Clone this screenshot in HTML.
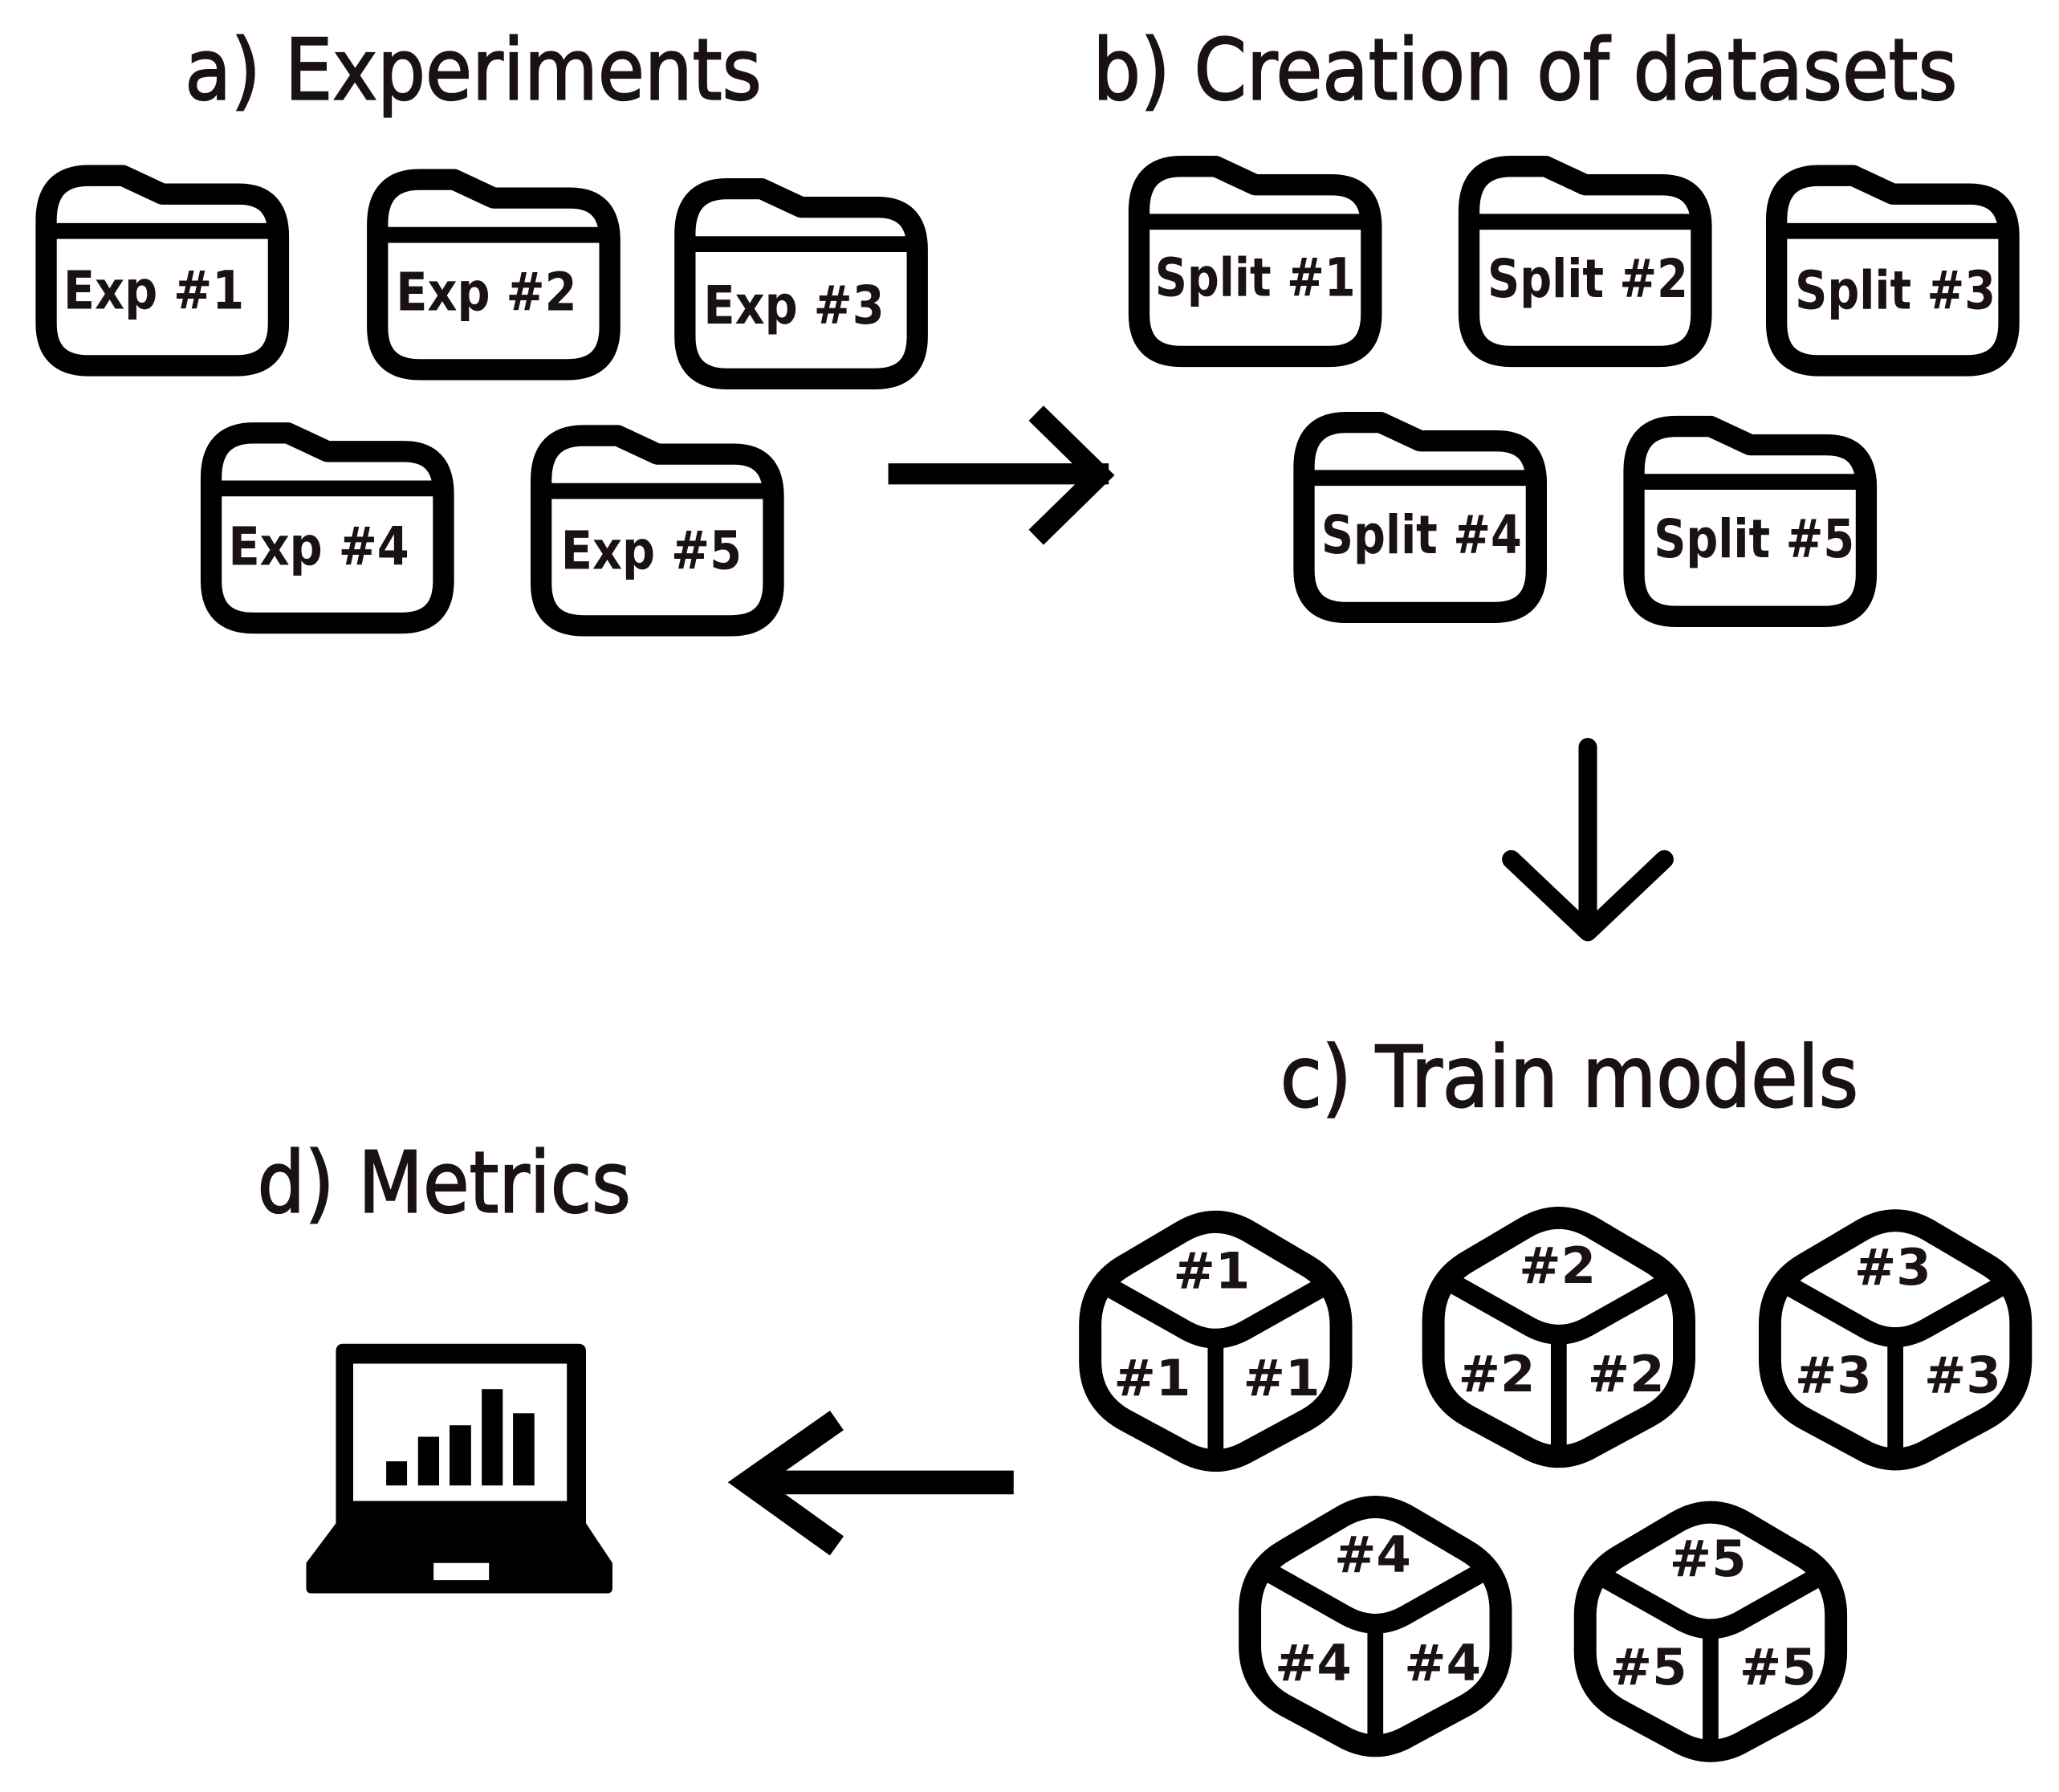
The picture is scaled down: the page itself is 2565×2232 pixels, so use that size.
<!DOCTYPE html>
<html><head><meta charset="utf-8"><style>
html,body{margin:0;padding:0;background:#fff;}
svg{display:block;}
text{font-family:"DejaVu Sans","Liberation Sans",sans-serif;fill:#1a1212;}
.t{font-size:64px;stroke:#1a1212;stroke-width:1.3px;}
.f{font-size:40px;font-weight:bold;}
.c{font-size:38px;font-weight:bold;text-anchor:middle;}
</style></head><body>
<svg width="2565" height="2232" viewBox="0 0 1560 1357.5" preserveAspectRatio="none" xmlns="http://www.w3.org/2000/svg">
<defs>
<g id="folder" fill="none" stroke="#000" stroke-linejoin="round">
<path d="M8,42 Q8,8 40,8 L66,8 L96,22 L154,22 Q184,22 184,54 L184,120 Q184,152 152,152 L40,152 Q8,152 8,120 Z" stroke-width="16"/>
<line x1="8" y1="50" x2="184" y2="50" stroke-width="12"/>
</g>
<g id="cube" fill="none" stroke="#000" stroke-linejoin="round">
<path d="M-25.8,-82.8 Q0,-98 25.8,-82.8 L69.2,-57.2 Q95,-42 95,-12 L95,15 Q95,45 68.8,59.6 L25.8,82.8 Q0,98 -25.8,82.8 L-68.8,59.6 Q-95,45 -95,15 L-95,-12 Q-95,-42 -69.2,-57.2 Z" stroke-width="17"/>
<path d="M-86,-44 L-22,-8 Q0,4 22,-8 L86,-44" stroke-width="15"/>
<line x1="0" y1="0" x2="0" y2="88" stroke-width="12"/>
</g>
</defs>

<text class="t" x="140" y="75" textLength="437" lengthAdjust="spacingAndGlyphs">a) Experiments</text>
<text class="t" x="828" y="75" textLength="655" lengthAdjust="spacingAndGlyphs">b) Creation of datasets</text>
<text class="t" x="970" y="838" textLength="438" lengthAdjust="spacingAndGlyphs">c) Train models</text>
<text class="t" x="195" y="918" textLength="283" lengthAdjust="spacingAndGlyphs">d) Metrics</text>

<use href="#folder" x="27" y="125"/><text class="f" x="48" y="234" textLength="137" lengthAdjust="spacingAndGlyphs">Exp #1</text>
<use href="#folder" x="278" y="128"/><text class="f" x="300" y="235" textLength="137" lengthAdjust="spacingAndGlyphs">Exp #2</text>
<use href="#folder" x="511" y="135"/><text class="f" x="533" y="245" textLength="137" lengthAdjust="spacingAndGlyphs">Exp #3</text>
<use href="#folder" x="152" y="320"/><text class="f" x="173" y="428" textLength="137" lengthAdjust="spacingAndGlyphs">Exp #4</text>
<use href="#folder" x="402" y="322"/><text class="f" x="425" y="431" textLength="137" lengthAdjust="spacingAndGlyphs">Exp #5</text>

<use href="#folder" x="855" y="118"/><text class="f" x="875" y="224" textLength="152" lengthAdjust="spacingAndGlyphs">Split #1</text>
<use href="#folder" x="1105" y="118"/><text class="f" x="1127" y="225" textLength="152" lengthAdjust="spacingAndGlyphs">Split #2</text>
<use href="#folder" x="1338" y="125"/><text class="f" x="1360" y="234" textLength="152" lengthAdjust="spacingAndGlyphs">Split #3</text>
<use href="#folder" x="980" y="312"/><text class="f" x="1001" y="419" textLength="152" lengthAdjust="spacingAndGlyphs">Split #4</text>
<use href="#folder" x="1230" y="315"/><text class="f" x="1253" y="422" textLength="152" lengthAdjust="spacingAndGlyphs">Split #5</text>

<g stroke="#000" fill="none" stroke-linecap="square">
<line x1="681" y1="359" x2="832" y2="359" stroke-width="16"/>
<polyline points="785,313 833,360 785,407" stroke-width="16" stroke-linecap="butt"/>
<line x1="1203" y1="566" x2="1203" y2="703" stroke-width="14" stroke-linecap="round"/>
<polyline points="1145,651 1203,706 1261,651" stroke-width="14" stroke-linecap="round" stroke-linejoin="round"/>
<line x1="768" y1="1123" x2="570" y2="1123" stroke-width="18" stroke-linecap="butt"/>
<polyline points="634,1076 567,1123 634,1171" stroke-width="18" stroke-linecap="butt"/>
</g>

<g>
<use href="#cube" x="921" y="1016"/>
<text class="c" x="918" y="976">#1</text><text class="c" x="873" y="1057">#1</text><text class="c" x="971" y="1057">#1</text>
<use href="#cube" x="1181" y="1013"/>
<text class="c" x="1180" y="972">#2</text><text class="c" x="1134" y="1054">#2</text><text class="c" x="1232" y="1054">#2</text>
<use href="#cube" x="1436" y="1015"/>
<text class="c" x="1434" y="973">#3</text><text class="c" x="1389" y="1055">#3</text><text class="c" x="1487" y="1055">#3</text>
<use href="#cube" x="1042" y="1232"/>
<text class="c" x="1040" y="1191">#4</text><text class="c" x="995" y="1273">#4</text><text class="c" x="1093" y="1273">#4</text>
<use href="#cube" x="1296" y="1236"/>
<text class="c" x="1294" y="1194">#5</text><text class="c" x="1249" y="1276">#5</text><text class="c" x="1347" y="1276">#5</text>
</g>

<g fill="#000">
<path d="M260,1018 L438,1018 Q444,1018 444,1024 L444,1154 L464,1184 L464,1203 Q464,1207 460,1207 L236,1207 Q232,1207 232,1203 L232,1184 L254.5,1154 L254.5,1024 Q254.5,1018 260,1018 Z M267.6,1033 L267.6,1137 L429.5,1137 L429.5,1033 Z M328.5,1184 L328.5,1197 L370.5,1197 L370.5,1184 Z" fill-rule="evenodd"/>
<rect x="292.6" y="1107" width="15.8" height="18.3"/>
<rect x="316.7" y="1088.4" width="16" height="36.9"/>
<rect x="340.6" y="1079.7" width="16.3" height="45.6"/>
<rect x="365" y="1052.3" width="15.9" height="73"/>
<rect x="388.7" y="1070.6" width="16.2" height="54.7"/>
</g>
</svg>
</body></html>
